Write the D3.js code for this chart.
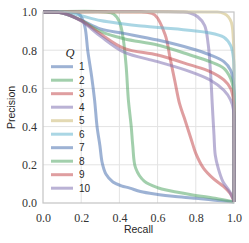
<!DOCTYPE html>
<html>
<head>
<meta charset="utf-8">
<script src="https://cdn.jsdelivr.net/npm/d3@7"></script>
<style>
  html, body { margin: 0; padding: 0; background: #fff; }
  svg { display: block; }
</style>
</head>
<body>
<svg class="canvas" width="249" height="243"></svg>
<script>
'use strict';

// Precision-recall curves, one per Q as [recall, precision].
const q1 = [[0, 1], [0.15, 1], [0.18, 0.995], [0.2, 0.975], [0.22, 0.92], [0.234, 0.8], [0.255, 0.66], [0.27, 0.54], [0.283, 0.4], [0.298, 0.3], [0.31, 0.21], [0.33, 0.15], [0.366, 0.11], [0.41, 0.09], [0.455, 0.078], [0.51, 0.06], [0.6, 0.045], [0.68, 0.035], [0.8, 0.025], [0.9, 0.015], [1, 0.005]];
const q2 = [[0, 1], [0.33, 1], [0.37, 0.99], [0.4, 0.95], [0.42, 0.86], [0.435, 0.72], [0.447, 0.54], [0.462, 0.4], [0.47, 0.3], [0.485, 0.183], [0.53, 0.114], [0.6, 0.08], [0.77, 0.045], [0.9, 0.025], [1, 0.005]];
const q3 = [[0, 1], [0.5, 1], [0.54, 0.998], [0.585, 0.985], [0.64, 0.88], [0.665, 0.76], [0.69, 0.64], [0.715, 0.52], [0.74, 0.445], [0.777, 0.33], [0.8, 0.26], [0.84, 0.183], [0.895, 0.125], [0.945, 0.087], [0.98, 0.05], [1, 0.01]];
const q4 = [[0, 1], [0.72, 1], [0.77, 0.995], [0.81, 0.975], [0.846, 0.93], [0.865, 0.83], [0.878, 0.67], [0.886, 0.52], [0.895, 0.36], [0.902, 0.25], [0.918, 0.18], [0.943, 0.11], [0.977, 0.06], [1, 0.01]];
const q5 = [[0, 1], [0.9, 1], [0.93, 0.998], [0.96, 0.985], [0.98, 0.96], [0.99, 0.93], [0.997, 0.85], [1, 0.7], [1, 0.005]];
const q6 = [[0, 1], [0.12, 0.998], [0.2, 0.98], [0.3, 0.955], [0.424, 0.937], [0.5, 0.928], [0.686, 0.912], [0.86, 0.893], [0.947, 0.868], [0.982, 0.825], [0.997, 0.76], [1, 0.6], [1, 0.005]];
const q7 = [[0, 1], [0.1, 0.995], [0.2, 0.958], [0.3, 0.912], [0.424, 0.888], [0.6, 0.853], [0.77, 0.81], [0.875, 0.775], [0.947, 0.74], [0.982, 0.696], [0.997, 0.63], [1, 0.5], [1, 0.005]];
const q8 = [[0, 1], [0.1, 0.995], [0.2, 0.956], [0.3, 0.898], [0.424, 0.86], [0.6, 0.827], [0.77, 0.775], [0.875, 0.74], [0.947, 0.705], [0.982, 0.653], [0.997, 0.6], [1, 0.45], [1, 0.005]];
const q9 = [[0, 1], [0.1, 0.995], [0.2, 0.955], [0.3, 0.886], [0.424, 0.81], [0.6, 0.775], [0.77, 0.723], [0.875, 0.688], [0.947, 0.644], [0.982, 0.6], [0.997, 0.54], [1, 0.4], [1, 0.005]];
const q10 = [[0, 1], [0.1, 0.995], [0.2, 0.953], [0.3, 0.874], [0.424, 0.79], [0.6, 0.74], [0.77, 0.688], [0.875, 0.644], [0.947, 0.59], [0.982, 0.54], [0.997, 0.49], [1, 0.35], [1, 0.005]];

const qLabels = ['1', '2', '3', '4', '5', '6', '7', '8', '9', '10'];
const qCurves = [q1, q2, q3, q4, q5, q6, q7, q8, q9, q10];
const qColors = ['#4c72b0', '#55a868', '#c44e52', '#8172b2', '#ccb974', '#64b5cd',
  '#4c72b0', '#55a868', '#c44e52', '#8172b2'];
const tickValues = [0, 0.2, 0.4, 0.6, 0.8, 1.0];

const width = 249,
  height = 243;
const padding = { top: 12, right: 15, bottom: 40, left: 43 },
  innerWidth = width - padding.left - padding.right,
  innerHeight = height - padding.top - padding.bottom;

const xScale = d3.scaleLinear([0, 1], [padding.left, padding.left + innerWidth]);
const yScale = d3.scaleLinear([0, 1], [padding.top + innerHeight, padding.top]);

const svg = d3.select('.canvas');

// Grid.
svg.append('g')
  .selectAll('line.vx')
  .data(tickValues.slice(1, -1))
  .join('line')
  .attr('x1', d => xScale(d)).attr('x2', d => xScale(d))
  .attr('y1', yScale(0)).attr('y2', yScale(1))
  .attr('stroke', '#e3e3e3').attr('stroke-width', 1);
svg.append('g')
  .selectAll('line')
  .data(tickValues.slice(1, -1))
  .join('line')
  .attr('y1', d => yScale(d)).attr('y2', d => yScale(d))
  .attr('x1', xScale(0)).attr('x2', xScale(1))
  .attr('stroke', '#e3e3e3').attr('stroke-width', 1);

// Axes (labels only, no tick marks).
const tickFmt = d3.format('.1f');
const xAxis = svg.append('g')
  .attr('transform', `translate(0, ${yScale(0)})`)
  .call(d3.axisBottom(xScale).tickValues(tickValues).tickFormat(tickFmt).tickSize(0).tickPadding(10));
const yAxis = svg.append('g')
  .attr('transform', `translate(${xScale(0)}, 0)`)
  .call(d3.axisLeft(yScale).tickValues(tickValues).tickFormat(tickFmt).tickSize(0).tickPadding(6));
[xAxis, yAxis].forEach(ax => {
  ax.select('.domain').remove();
  ax.selectAll('text')
    .attr('font-family', '"Liberation Serif", "DejaVu Serif", serif')
    .attr('font-size', 12)
    .attr('fill', '#333');
});

// Curves.
const line = d3.line()
  .x(d => xScale(d[0]))
  .y(d => yScale(d[1]))
  .curve(d3.curveCatmullRom.alpha(0.5));

svg.append('g')
  .selectAll('path')
  .data(qCurves)
  .join('path')
  .attr('d', line)
  .attr('fill', 'none')
  .attr('stroke', (d, i) => qColors[i])
  .attr('stroke-width', 3)
  .attr('stroke-opacity', 0.55)
  .attr('stroke-linecap', 'butt');

// Frame.
svg.append('rect')
  .attr('x', xScale(0)).attr('y', yScale(1))
  .attr('width', innerWidth).attr('height', innerHeight)
  .attr('fill', 'none')
  .attr('stroke', '#c4c4c4')
  .attr('stroke-width', 1.2);

// Axis titles.
svg.append('text')
  .attr('x', padding.left + innerWidth / 2)
  .attr('y', 233)
  .attr('text-anchor', 'middle')
  .attr('font-family', '"Liberation Sans", sans-serif')
  .attr('font-size', 10.5)
  .attr('fill', '#262626')
  .text('Recall');
svg.append('text')
  .attr('transform', `translate(15, ${padding.top + innerHeight / 2}) rotate(-90)`)
  .attr('text-anchor', 'middle')
  .attr('font-family', '"Liberation Sans", sans-serif')
  .attr('font-size', 10.5)
  .attr('fill', '#262626')
  .text('Precision');

// Legend.
const legend = svg.append('g');
legend.append('text')
  .attr('x', 70).attr('y', 57)
  .attr('text-anchor', 'middle')
  .attr('font-family', '"Liberation Serif", serif')
  .attr('font-style', 'italic')
  .attr('font-size', 12.5)
  .attr('fill', '#262626')
  .text('Q');
const rows = legend.selectAll('g.row')
  .data(qLabels)
  .join('g')
  .attr('class', 'row')
  .attr('transform', (d, i) => `translate(0, ${66.7 + i * 13.5})`);
rows.append('line')
  .attr('x1', 51).attr('x2', 73)
  .attr('stroke', (d, i) => qColors[i])
  .attr('stroke-width', 3)
  .attr('stroke-opacity', 0.55);
rows.append('text')
  .attr('x', 79).attr('y', 3.5)
  .attr('font-family', '"Liberation Sans", sans-serif')
  .attr('font-size', 10)
  .attr('fill', '#262626')
  .text(d => d);
</script>
</body>
</html>
